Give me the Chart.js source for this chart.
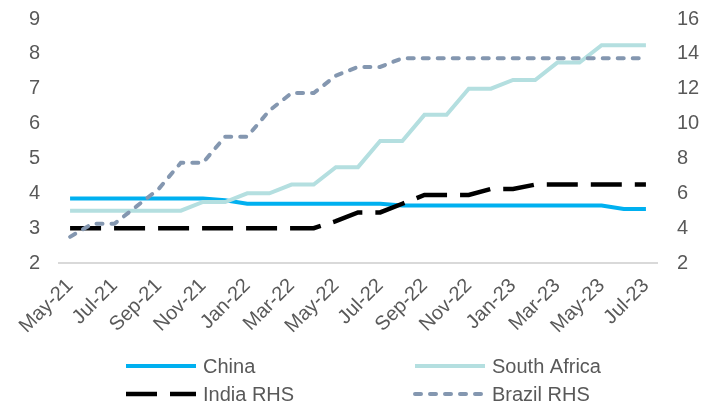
<!DOCTYPE html>
<html>
<head>
<meta charset="utf-8">
<script src="https://cdn.jsdelivr.net/npm/chart.js@4.4.0/dist/chart.umd.min.js"></script>
<style>
  html, body { margin: 0; padding: 0; background: #fff; }
  #wrap { position: relative; width: 714px; height: 405px; }
</style>
</head>
<body>
<div id="wrap"><canvas id="rates" width="714" height="405"></canvas></div>
<script>
// monthly policy rates, May-21 .. Jul-23
const months = ["May-21", "Jun-21", "Jul-21", "Aug-21", "Sep-21", "Oct-21", "Nov-21", "Dec-21",
  "Jan-22", "Feb-22", "Mar-22", "Apr-22", "May-22", "Jun-22", "Jul-22", "Aug-22", "Sep-22",
  "Oct-22", "Nov-22", "Dec-22", "Jan-23", "Feb-23", "Mar-23", "Apr-23", "May-23", "Jun-23", "Jul-23"];

const china = [3.85, 3.85, 3.85, 3.85, 3.85, 3.85, 3.85, 3.8, 3.7, 3.7, 3.7, 3.7, 3.7, 3.7, 3.7,
  3.65, 3.65, 3.65, 3.65, 3.65, 3.65, 3.65, 3.65, 3.65, 3.65, 3.55, 3.55];
const southAfrica = [3.5, 3.5, 3.5, 3.5, 3.5, 3.5, 3.75, 3.75, 4.0, 4.0, 4.25, 4.25, 4.75, 4.75,
  5.5, 5.5, 6.25, 6.25, 7.0, 7.0, 7.25, 7.25, 7.75, 7.75, 8.25, 8.25, 8.25];
const india = [4.0, 4.0, 4.0, 4.0, 4.0, 4.0, 4.0, 4.0, 4.0, 4.0, 4.0, 4.0, 4.4, 4.9, 4.9, 5.4,
  5.9, 5.9, 5.9, 6.25, 6.25, 6.5, 6.5, 6.5, 6.5, 6.5, 6.5];
const brazil = [3.5, 4.25, 4.25, 5.25, 6.25, 7.75, 7.75, 9.25, 9.25, 10.75, 11.75, 11.75, 12.75,
  13.25, 13.25, 13.75, 13.75, 13.75, 13.75, 13.75, 13.75, 13.75, 13.75, 13.75, 13.75, 13.75, 13.75];

const leftTicks = { min: 2, max: 9, step: 1 };
const rightTicks = { min: 2, max: 16, step: 2 };

const FONT = "'Liberation Sans', Arial, sans-serif";
const GREY = "#595959";

// two-column key under the axis
const seriesKey = {
  id: "seriesKey",
  afterDraw(chart) {
    const ctx = chart.ctx;
    const cols = [126, 415];
    const rows = [366, 394];
    chart.data.datasets.forEach((ds, i) => {
      const x = cols[i % 2];
      const y = rows[Math.floor(i / 2)];
      ctx.save();
      ctx.beginPath();
      ctx.rect(x - 4, y - 10, 74, 20);
      ctx.clip();
      ctx.strokeStyle = ds.borderColor;
      ctx.lineWidth = ds.borderWidth;
      ctx.lineCap = ds.borderCapStyle || "butt";
      ctx.setLineDash(ds.borderDash || []);
      ctx.beginPath();
      ctx.moveTo(x, y);
      ctx.lineTo(x + 70, y);
      ctx.stroke();
      ctx.restore();
      ctx.save();
      ctx.fillStyle = GREY;
      ctx.font = "20px " + FONT;
      ctx.textBaseline = "middle";
      ctx.fillText(ds.label, x + 77, y + 1);
      ctx.restore();
    });
  }
};

// side axes: fixed width, and keep the tick padding out of the top inset
const fitSide = width => s => {
  s.width = width;
  s.paddingTop = 10;
  s.paddingBottom = 10;
};

new Chart(document.getElementById("rates"), {
  type: "line",
  data: {
    labels: months,
    datasets: [
      { label: "China", data: china, yAxisID: "y", borderColor: "#00b0f0", borderWidth: 4, order: 4 },
      { label: "South Africa", data: southAfrica, yAxisID: "y", borderColor: "#b4dfe0", borderWidth: 4, order: 3 },
      { label: "India RHS", data: india, yAxisID: "y1", borderColor: "#000000", borderWidth: 4.5,
        borderDash: [31, 13], order: 2 },
      { label: "Brazil RHS", data: brazil, yAxisID: "y1", borderColor: "#8497b0", borderWidth: 4,
        borderDash: [6, 9], borderCapStyle: "round", order: 1 }
    ]
  },
  options: {
    responsive: false,
    animation: false,
    devicePixelRatio: 1,
    layout: { padding: { top: 19, left: 0, right: 0, bottom: 0 } },
    elements: { point: { radius: 0 }, line: { tension: 0, fill: false } },
    plugins: { legend: { display: false }, tooltip: { enabled: false } },
    scales: {
      x: {
        offset: true,
        grid: { display: false, drawTicks: false },
        border: { display: true, color: "#d9d9d9", width: 2 },
        ticks: {
          autoSkip: false,
          minRotation: 45,
          maxRotation: 45,
          padding: 11,
          color: GREY,
          font: { family: FONT, size: 20 },
          callback: (v, i) => (i % 2 === 0 ? months[i] : "")
        },
        afterFit: s => { s.height = 142; }
      },
      y: {
        position: "left",
        min: leftTicks.min,
        max: leftTicks.max,
        grid: { display: false, drawTicks: false },
        border: { display: false },
        ticks: { stepSize: leftTicks.step, padding: 19, color: GREY, font: { family: FONT, size: 20 } },
        afterFit: fitSide(59)
      },
      y1: {
        position: "right",
        min: rightTicks.min,
        max: rightTicks.max,
        grid: { display: false, drawTicks: false },
        border: { display: false },
        ticks: { stepSize: rightTicks.step, padding: 20, color: GREY, font: { family: FONT, size: 20 } },
        afterFit: fitSide(57)
      }
    }
  },
  plugins: [seriesKey]
});
</script>
</body>
</html>
